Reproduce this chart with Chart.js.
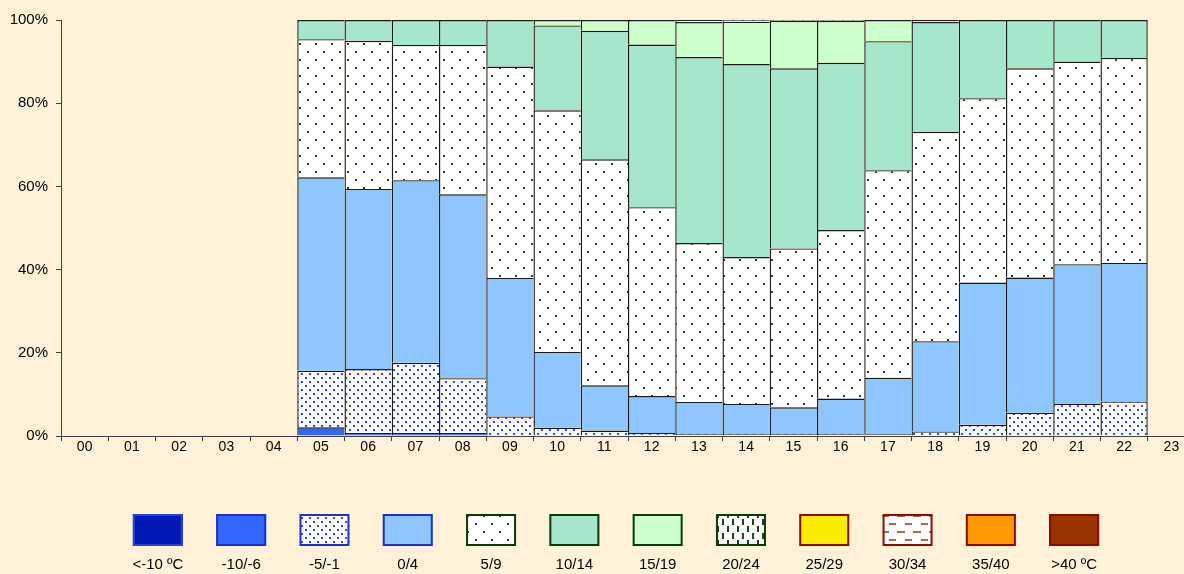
<!DOCTYPE html>
<html lang="es">
  <head>
    <meta charset="UTF-8" />
    <title>Temperaturas por hora</title>
    <style>
      body {
        margin: 0;
        padding: 0;
        background: #fff2d9;
        overflow: hidden;
        font-family: "Liberation Sans", Arial, sans-serif;
      }
      #wrap {
        position: relative;
        width: 1196px;
        height: 574px;
      }
    </style>
  </head>
  <body>
    <div id="wrap"><canvas id="chart"></canvas></div>
    <script src="https://cdn.jsdelivr.net/npm/chart.js"></script>
    <script>
      const _ = null;
      const hours = ["00", "01", "02", "03", "04", "05", "06", "07", "08", "09", "10", "11",
                     "12", "13", "14", "15", "16", "17", "18", "19", "20", "21", "22", "23"];
      const seriesNames = ["<-10 ºC", "-10/-6", "-5/-1", "0/4", "5/9", "10/14", "15/19",
                           "20/24", "25/29", "30/34", "35/40", ">40 ºC"];

      // % of observations per hour, hours 00-04 and 23 have no data
      const below10 = [_, _, _, _, _, _, _, _, _, _, _, _, _, _, _, _, _, _, _, _, _, _, _, _];
      const m10_6 = [_, _, _, _, _, 2.1, 0.7, 0.7, 0.7, _, _, _, _, _, _, _, _, _, _, _, _, _, _, _];
      const m5_1 = [_, _, _, _, _, 13.6, 15.4, 16.9, 13.2, 4.7, 2.0, 1.3, 0.7, 0.5, 0.5, 0.5, 0.5, 0.4, 1.1, 2.7, 5.6, 7.7, 8.3, _];
      const p0_4 = [_, _, _, _, _, 46.5, 43.3, 43.9, 44.2, 33.3, 18.2, 10.9, 8.9, 7.7, 7.2, 6.4, 8.5, 13.6, 21.7, 34.2, 32.5, 33.6, 33.3, _];
      const p5_9 = [_, _, _, _, _, 33.2, 35.6, 32.5, 35.9, 50.8, 58.1, 54.3, 45.4, 38.2, 35.3, 38.2, 40.5, 49.9, 50.3, 44.3, 50.3, 48.7, 49.3, _];
      const p10_14 = [_, _, _, _, _, 4.6, 5.0, 6.0, 6.0, 11.2, 20.4, 30.9, 39.1, 44.7, 46.4, 43.3, 40.2, 31.0, 26.4, 18.8, 11.6, 10.0, 9.1, _];
      const p15_19 = [_, _, _, _, _, _, _, _, _, _, 1.3, 2.6, 5.9, 8.4, 10.2, 11.4, 10.1, 5.1, 0.5, _, _, _, _, _];
      const p20_24 = [_, _, _, _, _, _, _, _, _, _, _, _, _, 0.5, 0.4, 0.2, 0.2, _, _, _, _, _, _, _];
      const p25_29 = [_, _, _, _, _, _, _, _, _, _, _, _, _, _, _, _, _, _, _, _, _, _, _, _];
      const p30_34 = [_, _, _, _, _, _, _, _, _, _, _, _, _, _, _, _, _, _, _, _, _, _, _, _];
      const p35_40 = [_, _, _, _, _, _, _, _, _, _, _, _, _, _, _, _, _, _, _, _, _, _, _, _];
      const above40 = [_, _, _, _, _, _, _, _, _, _, _, _, _, _, _, _, _, _, _, _, _, _, _, _];

      const yTicks = [0, 20, 40, 60, 80, 100];

      function makePattern(w, h, draw) {
        var c = document.createElement("canvas");
        c.width = w;
        c.height = h;
        var g = c.getContext("2d");
        g.fillStyle = "#ffffff";
        g.fillRect(0, 0, w, h);
        draw(g);
        return g.createPattern(c, "repeat");
      }

      const bluePattern = makePattern(8, 8, function (g) {
        g.fillStyle = "#3348e0";
        g.fillRect(1, 1, 2, 2);
        g.fillRect(5, 5, 2, 2);
      });
      const greenDots = makePattern(16, 16, function (g) {
        g.fillStyle = "#1d4a2a";
        g.fillRect(3, 3, 2, 2);
        g.fillRect(11, 11, 2, 2);
      });
      const greenDashes = makePattern(10, 14, function (g) {
        g.fillStyle = "#1a451a";
        g.fillRect(2, 1, 2, 6);
        g.fillRect(7, 8, 2, 6);
      });
      const brownDashes = makePattern(16, 16, function (g) {
        g.fillStyle = "#c0663e";
        g.fillRect(1, 3, 8, 2);
        g.fillRect(9, 11, 8, 2);
      });

      const seriesData = [below10, m10_6, m5_1, p0_4, p5_9, p10_14, p15_19, p20_24, p25_29, p30_34, p35_40, above40];
      const fills = ["#0019b5", "#3366ff", bluePattern, "#8fc6ff", greenDots, "#a6e6ca", "#ccffcc",
                     greenDashes, "#f8ec00", brownDashes, "#ff9900", "#993300"];
      const legendBorders = ["#2a44d0", "#1c33c4", "#1c33c4", "#1c33c4", "#0b3b0b", "#0b3b0b", "#0b3b0b",
                             "#0b3b0b", "#8b0a0a", "#8b0a0a", "#8b0a0a", "#8b0a0a"];

      const hasData = hours.map(function (h, i) {
        return seriesData.some(function (s) { return s[i] !== null; });
      });

      function segBorder(ctx) {
        var i = ctx.dataIndex;
        var lastOne = hasData[i] && !hasData[i + 1];
        return { top: 1.4, left: 1.4, right: lastOne ? 1.4 : 0, bottom: 0 };
      }

      const legendPlugin = {
        id: "boxLegend",
        afterDraw: function (chart) {
          var ctx = chart.ctx;
          ctx.save();
          chart.data.datasets.forEach(function (ds, i) {
            var cx = 616 + (i - 5.5) * 83.3;
            ctx.fillStyle = ds.backgroundColor;
            ctx.fillRect(cx - 25, 514, 50, 32);
            ctx.strokeStyle = legendBorders[i];
            ctx.lineWidth = 2;
            ctx.strokeRect(cx - 24, 515, 48, 30);
            ctx.fillStyle = "#000";
            ctx.font = "15px 'Liberation Sans', Arial, sans-serif";
            ctx.textAlign = "center";
            ctx.textBaseline = "middle";
            ctx.fillText(ds.label, cx, 565);
          });
          ctx.restore();
        },
      };

      Chart.defaults.font.family = "'Liberation Sans', Arial, sans-serif";
      Chart.defaults.color = "#000";

      new Chart(document.getElementById("chart"), {
        type: "bar",
        data: {
          labels: hours,
          datasets: seriesData.map(function (d, i) {
            return {
              label: seriesNames[i],
              data: d,
              backgroundColor: fills[i],
              borderColor: "#1a1a1a",
              borderWidth: segBorder,
              borderSkipped: false,
              inflateAmount: 0,
              barPercentage: 1,
              categoryPercentage: 1,
            };
          }),
        },
        options: {
          responsive: true,
          maintainAspectRatio: false,
          animation: false,
          layout: { padding: { left: 0, top: 20, right: 1, bottom: 113 } },
          plugins: { legend: { display: false }, tooltip: { enabled: false } },
          scales: {
            x: {
              stacked: true,
              afterFit: function (s) { s.height = 25; },
              grid: {
                offset: true,
                drawOnChartArea: false,
                tickLength: 5,
                color: "#404040",
              },
              border: { color: "#404040" },
              ticks: { font: { size: 14 }, padding: -2, autoSkip: false, maxRotation: 0 },
            },
            y: {
              stacked: true,
              min: 0,
              max: 100,
              afterFit: function (s) { s.width = 61; },
              afterBuildTicks: function (s) {
                s.ticks = yTicks.map(function (v) { return { value: v }; });
              },
              grid: { drawOnChartArea: false, tickLength: 5, color: "#404040" },
              border: { color: "#404040" },
              ticks: {
                font: { size: 15 },
                padding: 8,
                callback: function (v) { return v + "%"; },
              },
            },
          },
        },
        plugins: [legendPlugin],
      });
    </script>
  </body>
</html>
